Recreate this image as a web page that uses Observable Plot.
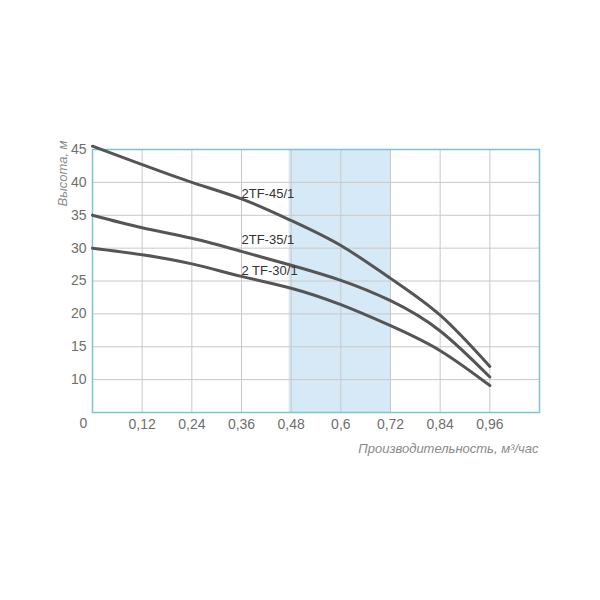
<!DOCTYPE html>
<html>
<head>
<meta charset="utf-8">
<script src="https://cdn.jsdelivr.net/npm/d3@7"></script>
<script src="https://cdn.jsdelivr.net/npm/@observablehq/plot@0.6"></script>
<style>
  body { margin: 0; background: #fff; }
  #chart svg { display: block; }
</style>
</head>
<body>
<div id="chart"></div>
<script>
const flow = [0, 0.12, 0.24, 0.36, 0.48, 0.6, 0.72, 0.84, 0.96];
const head45 = [45.5, 42.7, 40.0, 37.5, 34.2, 30.4, 25.4, 19.8, 12.0];
const head35 = [35.0, 33.1, 31.5, 29.5, 27.4, 25.1, 22.0, 17.4, 10.4];
const head30 = [30.0, 29.0, 27.6, 25.7, 23.9, 21.4, 18.2, 14.4, 9.1];
const seriesNames = ["2TF-45/1", "2TF-35/1", "2 TF-30/1"];
const labelFlow = [0.36, 0.36, 0.36];
const labelHead = [38.3, 31.2, 26.6];
const xTicks = [0.12, 0.24, 0.36, 0.48, 0.6, 0.72, 0.84, 0.96];
const yTicks = [10, 15, 20, 25, 30, 35, 40, 45];
const band = [0.475, 0.72];
const yTitle = "Высота, м";
const xTitle = "Производительность, м³/час";

const curves = [head45, head35, head30].flatMap((h, s) =>
  flow.map((q, i) => ({series: seriesNames[s], q, h: h[i]})));
const labels = seriesNames.map((n, i) => ({name: n, q: labelFlow[i], h: labelHead[i]}));
const fmt = d => String(d).replace(".", ",");
const font = "'Liberation Sans', Arial, sans-serif";

const chart = Plot.plot({
  width: 600,
  height: 600,
  marginLeft: 92,
  marginRight: 61,
  marginTop: 149,
  marginBottom: 188,
  style: {fontFamily: font, fontSize: "14px", color: "#666", background: "#fff"},
  x: {domain: [0, 1.08]},
  y: {domain: [5, 45]},
  marks: [
    Plot.rectX([band], {x1: d => d[0], x2: d => d[1], y1: 5, y2: 45, fill: "#d6e9f6"}),
    Plot.gridX(xTicks, {stroke: "#c8c8c8", strokeOpacity: 1, strokeWidth: 1}),
    Plot.gridY(yTicks, {stroke: "#c8c8c8", strokeOpacity: 1, strokeWidth: 1}),
    Plot.axisX(xTicks, {tickSize: 0, tickPadding: 7, tickFormat: fmt, label: null, fill: "#6e6e6e", fontSize: 14}),
    Plot.axisY(yTicks, {tickSize: 0, tickPadding: 6, label: null, fill: "#6e6e6e", fontSize: 14}),
    Plot.text([0], {x: d => d, y: 5, dx: -9, dy: 11, lineAnchor: "middle", text: d => String(d), fill: "#6e6e6e", fontSize: 14}),
    Plot.frame({stroke: "#7fc3d3", strokeWidth: 1.5}),
    Plot.line(curves, {x: "q", y: "h", z: "series", stroke: "#555", strokeWidth: 3, curve: "natural"}),
    Plot.text(labels, {x: "q", y: "h", text: "name", textAnchor: "start", fill: "#333", fontSize: 13}),
    Plot.text([yTitle], {frameAnchor: "top-left", dx: -30, dy: 24, rotate: -90, textAnchor: "middle", lineAnchor: "middle", fill: "#8a8a8a", fontStyle: "italic", fontSize: 13}),
    Plot.text([xTitle], {frameAnchor: "bottom-right", dx: -1, dy: 36, textAnchor: "end", lineAnchor: "middle", fill: "#8a8a8a", fontStyle: "italic", fontSize: 13})
  ]
});
document.getElementById("chart").appendChild(chart);
</script>
</body>
</html>
